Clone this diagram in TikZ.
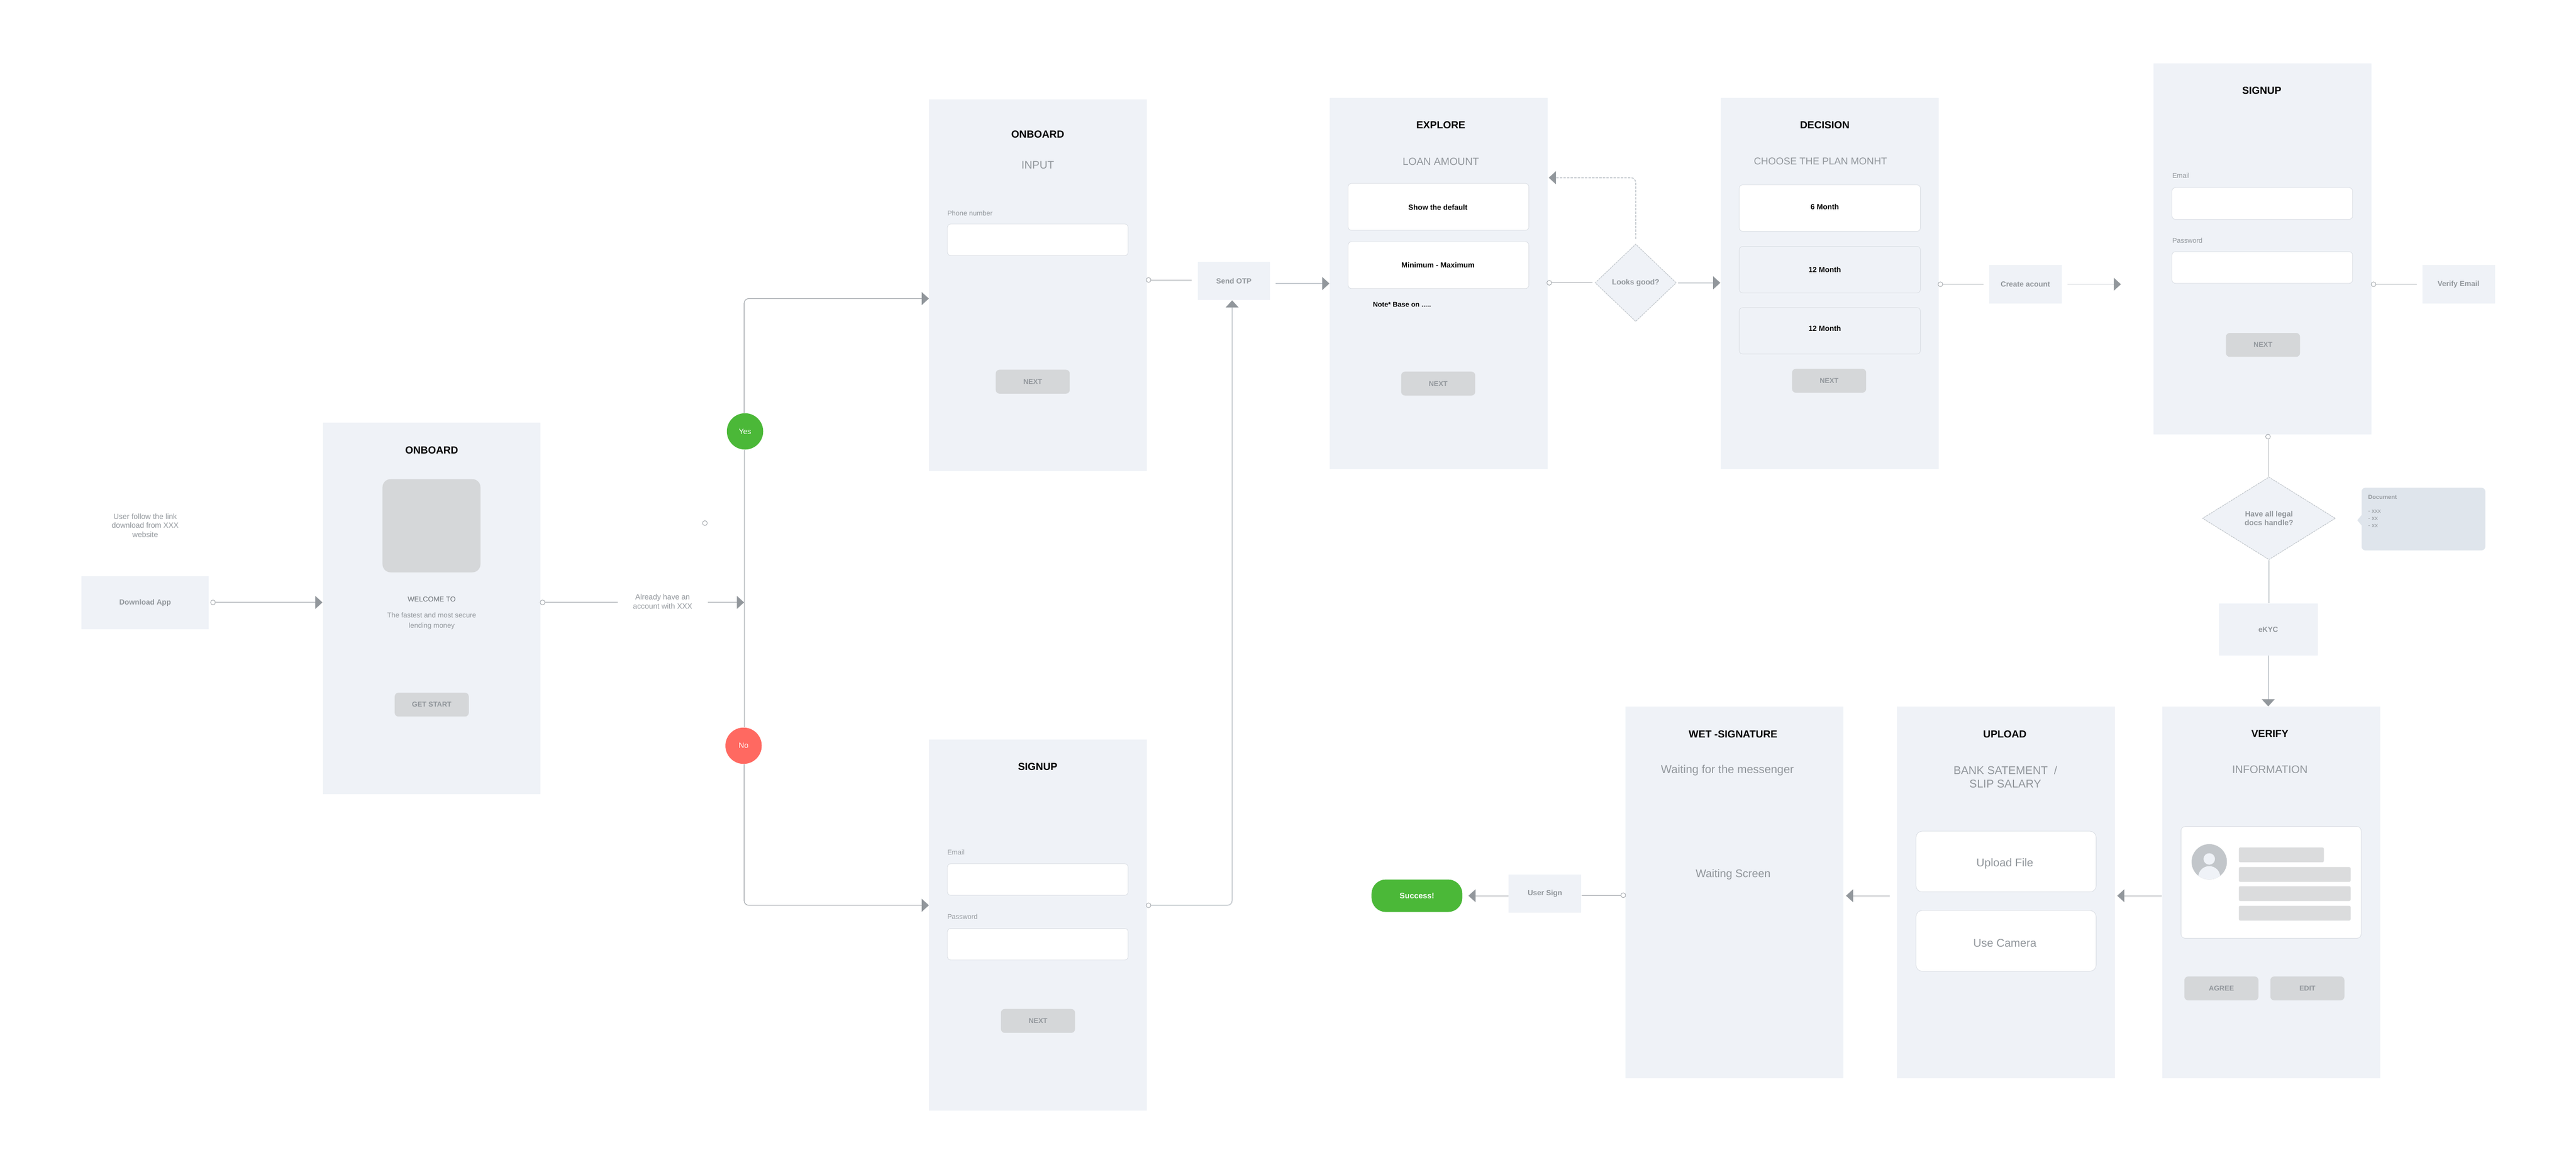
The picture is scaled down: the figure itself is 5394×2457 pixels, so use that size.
\documentclass[tikz,border=0pt]{standalone}
\usepackage{xcolor}
\usepackage{fontspec}
\setmainfont{Liberation Sans}
\usetikzlibrary{shapes.geometric, arrows.meta}
\definecolor{screenbg}{HTML}{EFF2F7}
\definecolor{notebg}{HTML}{DFE5EC}
\definecolor{edgegray}{HTML}{D9DDE3}
\definecolor{buttongray}{HTML}{D5D7D9}
\definecolor{bargray}{HTML}{DBDCDD}
\definecolor{avatargray}{HTML}{C2C6CA}
\definecolor{textgray}{HTML}{92979C}
\definecolor{welcomegray}{HTML}{6F7479}
\definecolor{linkdarkgray}{HTML}{9CA1A6}
\definecolor{linklightgray}{HTML}{C6CBD0}
\definecolor{tipgray}{HTML}{92979C}
\definecolor{okgreen}{HTML}{4BB838}
\definecolor{nored}{HTML}{FF6961}

\begin{document}
\begin{tikzpicture}[
    x=0.01cm, y=-0.01cm,
    screen/.style={rectangle, fill=screenbg, inner sep=0pt, minimum width=4.56cm, minimum height=7.77cm},
    flowbox/.style={rectangle, fill=screenbg, inner sep=0pt, align=center, text=textgray, font=\bfseries\fontsize{4.4}{5.4}\selectfont},
    field/.style={rectangle, fill=white, draw=edgegray, line width=0.01cm, rounded corners=0.07cm, inner sep=0pt, minimum width=3.78cm},
    planbox/.style={field, fill=screenbg, minimum width=3.79cm, minimum height=0.97cm},
    button/.style={rectangle, fill=buttongray, rounded corners=0.08cm, inner sep=0pt, minimum width=1.55cm, minimum height=0.5cm, text=textgray, font=\bfseries\fontsize{4.2}{5}\selectfont},
    bar/.style={rectangle, fill=bargray, rounded corners=0.03cm, inner sep=0pt, minimum height=0.31cm},
    heading/.style={inner sep=0pt, text=black, font=\bfseries\fontsize{6.1}{7.5}\selectfont},
    subheading/.style={inner sep=0pt, align=center, text=textgray, font=\fontsize{6.5}{8}\selectfont},
    plain/.style={inner sep=0pt, align=center, text=textgray, font=\fontsize{4.5}{5.4}\selectfont},
    tiny/.style={inner sep=0pt, anchor=west, text=textgray, font=\fontsize{4.1}{5}\selectfont},
    choice/.style={inner sep=0pt, text=black, font=\bfseries\fontsize{4.4}{5}\selectfont},
    decision/.style={diamond, fill=screenbg, draw=linklightgray, dash pattern=on 0.04cm off 0.015cm, line width=0.015cm, inner sep=0pt, align=center, text=textgray, font=\bfseries\fontsize{4.5}{5.4}\selectfont},
    answer/.style={circle, inner sep=0pt, minimum size=0.76cm, text=white, font=\fontsize{4.5}{5}\selectfont},
    port/.style={circle, draw=linkdarkgray, fill=white, line width=0.01cm, inner sep=0pt, minimum size=0.1cm},
    linkdark/.style={draw=linkdarkgray, line width=0.012cm},
    linklight/.style={draw=linklightgray, line width=0.02cm},
    arrowed/.style={-{Triangle[length=0.15cm, width=0.27cm, color=tipgray]}}
]
    \coordinate (trunk) at (1558,1261);
    \coordinate (inputin) at (1945,625);
    \coordinate (signupin) at (1945,1895);
    \coordinate (backin) at (3243,372);
    \coordinate (createend) at (4441,595);
    \coordinate (rowmid) at (4000,1875);

    \node[flowbox, minimum width=2.66cm, minimum height=1.11cm] (download) at (304,1261.5) {Download App};
    \node[plain] (follow) at (304,1100) {User follow the link\\download from XXX\\website};

    \node[screen] (onboard) at (904,1273.5) {};
    \node[heading] (onboardtitle) at (904,942) {ONBOARD};
    \node[rectangle, fill=buttongray, rounded corners=0.17cm, minimum width=2.05cm, minimum height=1.95cm] (onboardimg) at (903.5,1100.5) {};
    \node[plain, text=welcomegray, font=\fontsize{4.2}{5}\selectfont] (welcome) at (904,1254) {WELCOME TO};
    \node[plain, font=\fontsize{4.2}{6.3}\selectfont] (welcometext) at (904,1300) {The fastest and most secure\\lending money};
    \node[button] (getstart) at (904,1475) {GET START};

    \node[plain, minimum width=1.87cm] (already) at (1387.5,1259) {Already have an\\account with XXX};
    \node[port] (strayport) at (1476,1095) {};
    \node[answer, fill=okgreen] (yes) at (1560,903) {Yes};
    \node[answer, fill=nored] (no) at (1557,1561) {No};

    \node[screen] (input) at (2173,597) {};
    \node[heading] (inputtitle) at (2173,281) {ONBOARD};
    \node[subheading] (inputsub) at (2173,346) {INPUT};
    \node[tiny] (phone) at (1983,446) {Phone number};
    \node[field, minimum height=0.66cm] (phonefield) at (2173,502) {};
    \node[button] (inputnext) at (2162.5,799) {NEXT};

    \node[screen] (signup) at (2173,1936.5) {};
    \node[heading] (signuptitle) at (2173,1605) {SIGNUP};
    \node[tiny] (email) at (1983,1784) {Email};
    \node[field, minimum height=0.66cm] (emailfield) at (2173,1841) {};
    \node[tiny] (password) at (1983,1919) {Password};
    \node[field, minimum height=0.66cm] (passwordfield) at (2173,1976.5) {};
    \node[button] (signupnext) at (2173.5,2137) {NEXT};

    \node[flowbox, minimum width=1.51cm, minimum height=0.8cm] (otp) at (2583.5,588) {Send OTP};

    \node[screen] (explore) at (3012.5,593.5) {};
    \node[heading] (exploretitle) at (3017,262) {EXPLORE};
    \node[subheading, font=\fontsize{6.2}{8}\selectfont] (exploresub) at (3017,338) {LOAN AMOUNT};
    \node[field, minimum height=0.98cm] (amountone) at (3012,433) {};
    \node[choice] (amountonetext) at (3011,434) {Show the default};
    \node[field, minimum height=0.98cm] (amounttwo) at (3012,555) {};
    \node[choice] (amounttwotext) at (3011,555) {Minimum - Maximum};
    \node[choice, anchor=west, font=\bfseries\fontsize{4.1}{5}\selectfont] (basenote) at (2874,637) {Note* Base on .....};
    \node[button] (explorenext) at (3011.5,803) {NEXT};

    \node[decision, minimum width=1.7cm, minimum height=1.62cm] (looks) at (3425,592) {Looks good?};

    \node[screen] (plan) at (3831,593.5) {};
    \node[heading] (plantitle) at (3821,262) {DECISION};
    \node[subheading, font=\fontsize{5.9}{8}\selectfont] (plansub) at (3812,338) {CHOOSE THE PLAN MONHT};
    \node[field, minimum width=3.79cm, minimum height=0.97cm] (planone) at (3831.5,435.5) {};
    \node[choice] (planonetext) at (3821,433) {6 Month};
    \node[planbox] (plantwo) at (3831.5,564.5) {};
    \node[choice] (plantwotext) at (3821,565) {12 Month};
    \node[planbox] (planthree) at (3831.5,692.5) {};
    \node[choice] (planthreetext) at (3821,688) {12 Month};
    \node[button] (plannext) at (3830,797) {NEXT};

    \node[flowbox, minimum width=1.52cm, minimum height=0.8cm] (create) at (4241,595) {Create acount};

    \node[screen] (account) at (4737.5,521) {};
    \node[heading] (accounttitle) at (4736,190) {SIGNUP};
    \node[tiny] (accountemail) at (4548,368) {Email};
    \node[field, minimum height=0.66cm] (accountemailfield) at (4737,426) {};
    \node[tiny] (accountpassword) at (4548,504) {Password};
    \node[field, minimum height=0.66cm] (accountpasswordfield) at (4737,560) {};
    \node[button] (accountnext) at (4738.5,722) {NEXT};

    \node[flowbox, minimum width=1.52cm, minimum height=0.8cm] (verifyemail) at (5148,595) {Verify Email};

    \node[decision, minimum width=2.78cm, minimum height=1.73cm] (legal) at (4751,1085) {Have all legal\\docs handle?};
    \node[rectangle, fill=notebg, rounded corners=0.08cm, minimum width=2.59cm, minimum height=1.31cm, inner sep=0pt] (docnote) at (5074.5,1086.5) {};
    \fill[notebg] (4946,1077) -- (4936,1089) -- (4946,1101) -- cycle;
    \node[tiny, font=\bfseries\fontsize{3.5}{4}\selectfont] (doctitle) at (4958,1041) {Document};
    \node[tiny, align=left, font=\fontsize{3.6}{4.27}\selectfont] (doclist) at (4958,1086) {- xxx\\- xx\\- xx};

    \node[flowbox, minimum width=2.07cm, minimum height=1.09cm] (ekyc) at (4749.5,1317.5) {eKYC};

    \node[screen] (verify) at (4755.5,1868) {};
    \node[heading] (verifytitle) at (4753,1536) {VERIFY};
    \node[subheading] (verifysub) at (4753,1611) {INFORMATION};
    \node[field, minimum width=3.77cm, minimum height=2.34cm, rounded corners=0.09cm] (card) at (4755.5,1847) {};
    \node[circle, fill=avatargray, minimum size=0.74cm, inner sep=0pt] (avatar) at (4626,1804) {};
    \begin{scope}
        \clip (4626,1804) circle (37);
        \fill[screenbg] (4626,1798) circle (12);
        \fill[screenbg] (4626,1836) circle (23);
    \end{scope}
    \node[bar, minimum width=1.78cm] (barone) at (4777,1789.5) {};
    \node[bar, minimum width=2.34cm] (bartwo) at (4805,1830.5) {};
    \node[bar, minimum width=2.34cm] (barthree) at (4805,1870.5) {};
    \node[bar, minimum width=2.34cm] (barfour) at (4805,1911.5) {};
    \node[button] (agree) at (4651.5,2069) {AGREE};
    \node[button] (edit) at (4831.5,2069) {EDIT};

    \node[screen] (upload) at (4200.5,1868) {};
    \node[heading] (uploadtitle) at (4198,1537) {UPLOAD};
    \node[subheading, font=\fontsize{6.7}{8}\selectfont] (uploadsub) at (4199,1626) {BANK SATEMENT~ /\\SLIP SALARY};
    \node[field, minimum width=3.77cm, minimum height=1.27cm, rounded corners=0.13cm] (uploadfile) at (4200.5,1803.5) {};
    \node[subheading, font=\fontsize{6.7}{8}\selectfont] (uploadfiletext) at (4198,1808) {Upload File};
    \node[field, minimum width=3.77cm, minimum height=1.27cm, rounded corners=0.13cm] (camera) at (4200.5,1969.5) {};
    \node[subheading, font=\fontsize{6.7}{8}\selectfont] (cameratext) at (4198,1974) {Use Camera};

    \node[screen] (wet) at (3631.5,1868) {};
    \node[heading] (wettitle) at (3629,1537) {WET -SIGNATURE};
    \node[subheading, font=\fontsize{6.8}{8}\selectfont] (wetsub) at (3617,1612) {Waiting for the messenger};
    \node[subheading, font=\fontsize{6.6}{8}\selectfont] (waiting) at (3629,1831) {Waiting Screen};

    \node[flowbox, minimum width=1.52cm, minimum height=0.79cm] (usersign) at (3235,1870.5) {User Sign};
    \node[rectangle, fill=okgreen, rounded corners=0.3cm, minimum width=1.9cm, minimum height=0.68cm, inner sep=0pt, text=white, font=\bfseries\fontsize{4.7}{5}\selectfont] (success) at (2967,1875) {Success!};

    \node[port] (downloadport) at (446,1261) {};
    \node[port] (onboardport) at (1136,1261) {};
    \node[port] (inputport) at (2405,586) {};
    \node[port] (signupport) at (2405,1895) {};
    \node[port] (exploreport) at (3244,592) {};
    \node[port] (planport) at (4063,595) {};
    \node[port] (accountport) at (4970,595) {};
    \node[port] (legalport) at (4749,914) {};
    \node[port] (wetport) at (3399,1874) {};

    \draw[linkdark, arrowed] (downloadport) -- (downloadport -| onboard.west);
    \draw[linkdark] (onboardport) -- (onboardport -| already.west);
    \draw[linkdark, arrowed] (onboardport -| already.east) -- (onboardport -| trunk);
    \draw[linkdark, arrowed, rounded corners=0.1cm] (yes.north -| trunk) |- (inputin);
    \draw[linkdark] (yes.south -| trunk) -- (no.north -| trunk);
    \draw[linkdark, arrowed, rounded corners=0.1cm] (no.south -| trunk) |- (signupin);
    \draw[linkdark, shorten >=0.12cm] (inputport) -- (inputport -| otp.west);
    \draw[linklight, arrowed, rounded corners=0.1cm] (signupport) -| ([xshift=-0.035cm]otp.south);
    \draw[linklight, arrowed, shorten <=0.11cm] (otp.east |- explore.west) -- (explore.west);
    \draw[linkdark, shorten >=0.05cm] (exploreport) -- (looks.west);
    \draw[linklight, dash pattern=on 0.05cm off 0.025cm, arrowed, rounded corners=0.1cm] ([yshift=0.1cm]looks.north) |- (backin);
    \draw[linklight, arrowed, shorten <=0.03cm] (looks.east) -- (looks.east -| plan.west);
    \draw[linkdark, shorten >=0.11cm] (planport) -- (planport -| create.west);
    \draw[linklight, arrowed, shorten <=0.11cm] (create.east) -- (createend);
    \draw[linkdark, shorten >=0.11cm] (accountport) -- (accountport -| verifyemail.west);
    \draw[linkdark] (legalport) -- (legalport |- legal.north);
    \draw[linklight] (legal.south) -- (legal.south |- ekyc.north);
    \draw[linklight, arrowed] (ekyc.south) -- (ekyc.south |- verify.north);
    \draw[linkdark, arrowed, shorten >=0.04cm] (rowmid -| verify.west) -- (rowmid -| upload.east);
    \draw[linkdark, arrowed, shorten <=0.15cm, shorten >=0.05cm] (rowmid -| upload.west) -- (rowmid -| wet.east);
    \draw[linkdark] (wetport) -- (wetport -| usersign.east);
    \draw[linkdark, arrowed, shorten >=0.12cm] (rowmid -| usersign.west) -- (rowmid -| success.east);

    \useasboundingbox (0,0) rectangle (5394,2457);
\end{tikzpicture}
\end{document}
